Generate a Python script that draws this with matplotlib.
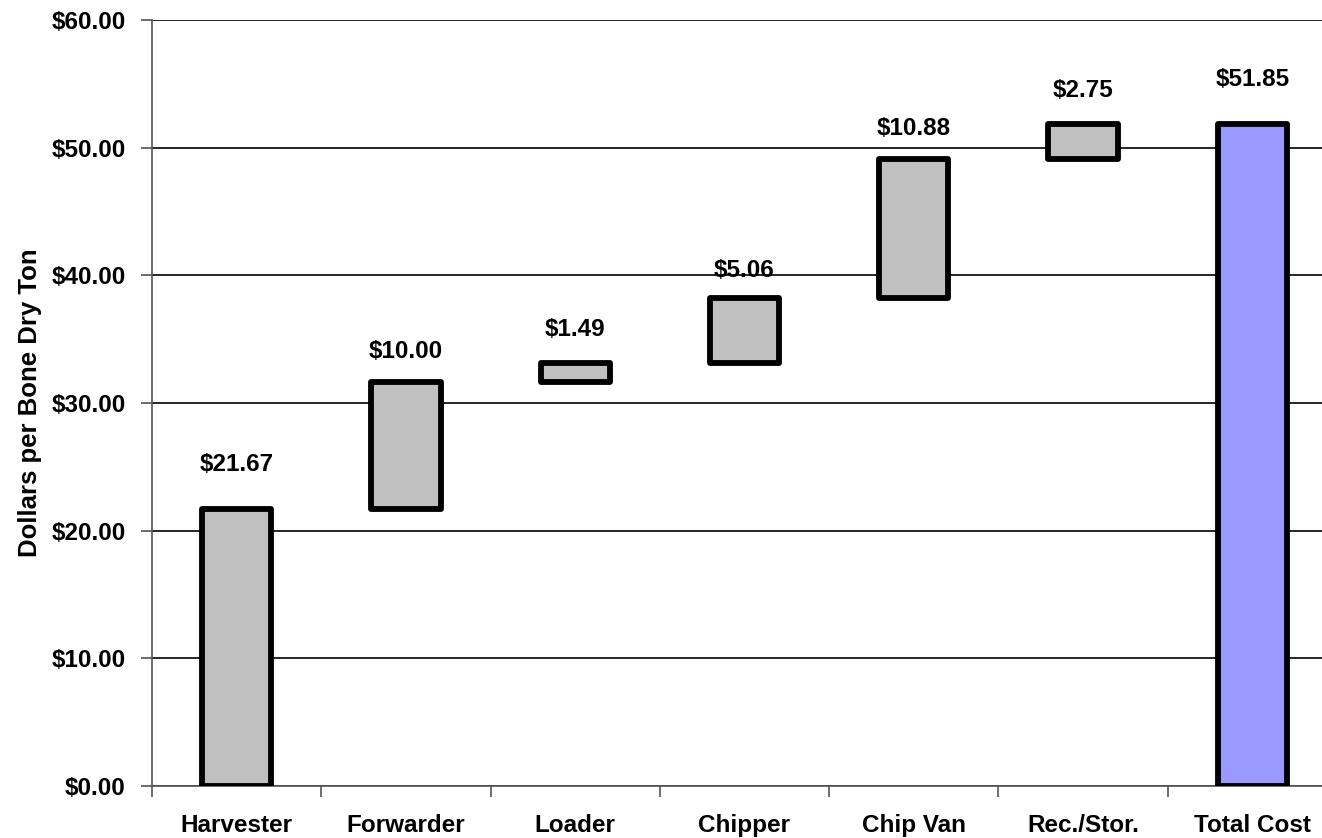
import numpy as np
import matplotlib
matplotlib.use('Agg')
import matplotlib.pyplot as plt
from matplotlib.ticker import FuncFormatter

plt.rcParams['font.family'] = ['Liberation Sans', 'DejaVu Sans']

categories = ['Harvester', 'Forwarder', 'Loader', 'Chipper', 'Chip Van', 'Rec./Stor.', 'Total Cost']
step_costs = [21.67, 10.00, 1.49, 5.06, 10.88, 2.75]
total_cost = 51.85

# waterfall: each step starts where the previous ended, total starts at zero
bottoms = list(np.concatenate([[0], np.cumsum(step_costs)[:-1]])) + [0]
heights = step_costs + [total_cost]
colors = ['#C0C0C0'] * len(step_costs) + ['#9999FF']
label_offsets = [32, 22, 24, 20, 22, 24, 32]  # points above bar top

fig = plt.figure(figsize=(13.22, 8.38), dpi=100)
ax = fig.add_axes([152 / 1322, 52 / 838, 1185 / 1322, 766 / 838])

x = np.arange(len(categories))
ax.bar(x, heights, bottom=bottoms, width=0.41, color=colors,
       edgecolor='black', linewidth=4.2, joinstyle='round', zorder=3)

for xi, b, h, off in zip(x, bottoms, heights, label_offsets):
    ax.annotate('${:.2f}'.format(h), xy=(xi, b + h), xytext=(0, off),
                textcoords='offset points', ha='center', va='center',
                fontsize=17.5, fontweight='bold')

ax.set_xlim(-0.5, len(categories) - 0.5)
ax.set_ylim(0, 60)
ax.set_yticks(np.arange(0, 61, 10))
ax.yaxis.set_major_formatter(FuncFormatter(lambda v, p: '${:.2f}'.format(v)))
ax.grid(axis='y', color='black', linewidth=1.2, zorder=0)
ax.set_axisbelow(True)

ax.set_xticks(x)
ax.set_xticklabels(categories, fontsize=17.5, fontweight='bold')
ax.set_xticks(np.arange(-0.5, len(categories), 1), minor=True)
ax.tick_params(axis='x', which='major', length=0, pad=20)
ax.tick_params(axis='x', which='minor', length=8, color='#555555', width=1.2)
ax.tick_params(axis='y', length=8, color='#555555', width=1.2, pad=11)
for lab in ax.get_yticklabels():
    lab.set_fontsize(17.5)
    lab.set_fontweight('bold')

ax.set_ylabel('Dollars per Bone Dry Ton', fontsize=18.5, fontweight='bold', labelpad=7)

for s in ['top', 'right']:
    ax.spines[s].set_visible(False)
for s in ['left', 'bottom']:
    ax.spines[s].set_color('#555555')
    ax.spines[s].set_linewidth(1.2)

fig.savefig('out.png', dpi=100)
